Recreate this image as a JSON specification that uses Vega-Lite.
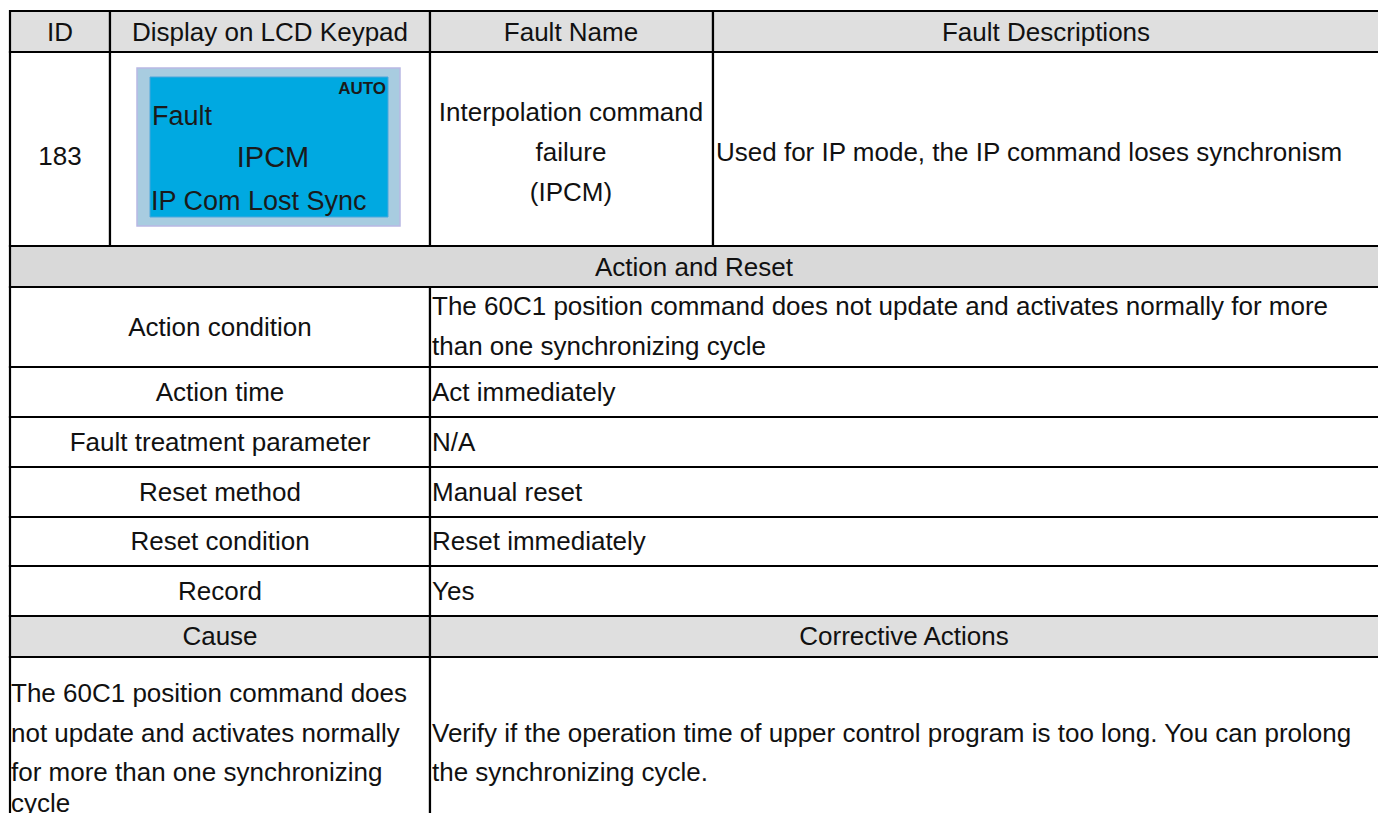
{
  "$schema": "https://vega.github.io/schema/vega-lite/v6.json",
  "width": 1378,
  "height": 813,
  "padding": 0,
  "autosize": {"type": "none"},
  "background": "white",
  "config": {"view": {"stroke": null}, "text": {"font": "Liberation Sans"}},
  "datasets": {
    "cells": [
      {"x": 10, "x2": 110, "y": 11, "y2": 52, "shade": "head"},
      {"x": 110, "x2": 430, "y": 11, "y2": 52, "shade": "head"},
      {"x": 430, "x2": 713, "y": 11, "y2": 52, "shade": "head"},
      {"x": 713, "x2": 1381, "y": 11, "y2": 52, "shade": "head"},
      {"x": 10, "x2": 110, "y": 52, "y2": 246, "shade": "body"},
      {"x": 110, "x2": 430, "y": 52, "y2": 246, "shade": "body"},
      {"x": 430, "x2": 713, "y": 52, "y2": 246, "shade": "body"},
      {"x": 713, "x2": 1381, "y": 52, "y2": 246, "shade": "body"},
      {"x": 10, "x2": 1381, "y": 246, "y2": 287, "shade": "section"},
      {"x": 10, "x2": 430, "y": 287, "y2": 367, "shade": "body"},
      {"x": 430, "x2": 1381, "y": 287, "y2": 367, "shade": "body"},
      {"x": 10, "x2": 430, "y": 367, "y2": 417, "shade": "body"},
      {"x": 430, "x2": 1381, "y": 367, "y2": 417, "shade": "body"},
      {"x": 10, "x2": 430, "y": 417, "y2": 467, "shade": "body"},
      {"x": 430, "x2": 1381, "y": 417, "y2": 467, "shade": "body"},
      {"x": 10, "x2": 430, "y": 467, "y2": 517, "shade": "body"},
      {"x": 430, "x2": 1381, "y": 467, "y2": 517, "shade": "body"},
      {"x": 10, "x2": 430, "y": 517, "y2": 566, "shade": "body"},
      {"x": 430, "x2": 1381, "y": 517, "y2": 566, "shade": "body"},
      {"x": 10, "x2": 430, "y": 566, "y2": 616, "shade": "body"},
      {"x": 430, "x2": 1381, "y": 566, "y2": 616, "shade": "body"},
      {"x": 10, "x2": 430, "y": 616, "y2": 657, "shade": "head"},
      {"x": 430, "x2": 1381, "y": 616, "y2": 657, "shade": "head"},
      {"x": 10, "x2": 430, "y": 657, "y2": 830, "shade": "body"},
      {"x": 430, "x2": 1381, "y": 657, "y2": 830, "shade": "body"}
    ],
    "lcd": [
      {"x": 137, "x2": 400, "y": 68, "y2": 226, "part": "bezel"},
      {"x": 150, "x2": 388, "y": 77, "y2": 217, "part": "screen"}
    ],
    "texts": [
      {"t": "ID", "x": 60, "y": 33, "k": "center"},
      {"t": "Display on LCD Keypad", "x": 270, "y": 33, "k": "center"},
      {"t": "Fault Name", "x": 571, "y": 33, "k": "center"},
      {"t": "Fault Descriptions", "x": 1046, "y": 33, "k": "center"},
      {"t": "183", "x": 60, "y": 157, "k": "center"},
      {"t": "Interpolation command", "x": 571, "y": 113, "k": "center"},
      {"t": "failure", "x": 571, "y": 153, "k": "center"},
      {"t": "(IPCM)", "x": 571, "y": 193, "k": "center"},
      {"t": "Used for IP mode, the IP command loses synchronism", "x": 716, "y": 153, "k": "left"},
      {"t": "Action and Reset", "x": 694, "y": 268, "k": "center"},
      {"t": "Action condition", "x": 220, "y": 328, "k": "center"},
      {"t": "The 60C1 position command does not update and activates normally for more", "x": 432, "y": 307, "k": "left"},
      {"t": "than one synchronizing cycle", "x": 432, "y": 347, "k": "left"},
      {"t": "Action time", "x": 220, "y": 393, "k": "center"},
      {"t": "Act immediately", "x": 432, "y": 393, "k": "left"},
      {"t": "Fault treatment parameter", "x": 220, "y": 443, "k": "center"},
      {"t": "N/A", "x": 432, "y": 443, "k": "left"},
      {"t": "Reset method", "x": 220, "y": 493, "k": "center"},
      {"t": "Manual reset", "x": 432, "y": 493, "k": "left"},
      {"t": "Reset condition", "x": 220, "y": 542, "k": "center"},
      {"t": "Reset immediately", "x": 432, "y": 542, "k": "left"},
      {"t": "Record", "x": 220, "y": 592, "k": "center"},
      {"t": "Yes", "x": 432, "y": 592, "k": "left"},
      {"t": "Cause", "x": 220, "y": 637, "k": "center"},
      {"t": "Corrective Actions", "x": 904, "y": 637, "k": "center"},
      {"t": "The 60C1 position command does", "x": 11, "y": 694, "k": "left"},
      {"t": "not update and activates normally", "x": 11, "y": 734, "k": "left"},
      {"t": "for more than one synchronizing", "x": 11, "y": 773, "k": "left"},
      {"t": "cycle", "x": 11, "y": 804, "k": "left"},
      {"t": "Verify if the operation time of upper control program is too long. You can prolong", "x": 432, "y": 734, "k": "left"},
      {"t": "the synchronizing cycle.", "x": 432, "y": 773, "k": "left"},
      {"t": "AUTO", "x": 386, "y": 89, "k": "auto"},
      {"t": "Fault", "x": 152, "y": 117, "k": "lcd"},
      {"t": "IPCM", "x": 273, "y": 158, "k": "lcdc"},
      {"t": "IP Com Lost Sync", "x": 151, "y": 202, "k": "lcd"}
    ]
  },
  "encoding": {
    "x": {"field": "x", "type": "quantitative", "scale": {"domain": [0, 1378], "nice": false, "zero": false}, "axis": null},
    "y": {"field": "y", "type": "quantitative", "scale": {"domain": [0, 813], "nice": false, "zero": false, "reverse": true}, "axis": null}
  },
  "layer": [
    {
      "data": {"name": "cells"},
      "mark": {"type": "rect", "stroke": "#000000", "strokeWidth": 2.2},
      "encoding": {
        "x2": {"field": "x2"},
        "y2": {"field": "y2"},
        "fill": {"field": "shade", "type": "nominal", "legend": null,
          "scale": {"domain": ["head", "section", "body"], "range": ["#dfdfdf", "#d9d9d9", "#ffffff"]}}
      }
    },
    {
      "data": {"name": "lcd"},
      "transform": [{"filter": "datum.part === 'bezel'"}],
      "mark": {"type": "rect", "fill": "#a8cce0", "stroke": "#b8b8e4", "strokeWidth": 1.5},
      "encoding": {"x2": {"field": "x2"}, "y2": {"field": "y2"}}
    },
    {
      "data": {"name": "lcd"},
      "transform": [{"filter": "datum.part === 'screen'"}],
      "mark": {"type": "rect", "fill": "#00a9e1", "stroke": "#4aa6dc", "strokeWidth": 1},
      "encoding": {"x2": {"field": "x2"}, "y2": {"field": "y2"}}
    },
    {
      "data": {"name": "texts"},
      "transform": [{"filter": "datum.k === 'center'"}],
      "mark": {"type": "text", "align": "center", "baseline": "middle", "fontSize": 26, "color": "#111111"},
      "encoding": {"text": {"field": "t"}}
    },
    {
      "data": {"name": "texts"},
      "transform": [{"filter": "datum.k === 'left'"}],
      "mark": {"type": "text", "align": "left", "baseline": "middle", "fontSize": 26, "color": "#111111"},
      "encoding": {"text": {"field": "t"}}
    },
    {
      "data": {"name": "texts"},
      "transform": [{"filter": "datum.k === 'auto'"}],
      "mark": {"type": "text", "align": "right", "baseline": "middle", "fontSize": 17, "fontWeight": "bold", "color": "#1a1a1a"},
      "encoding": {"text": {"field": "t"}}
    },
    {
      "data": {"name": "texts"},
      "transform": [{"filter": "datum.k === 'lcd'"}],
      "mark": {"type": "text", "align": "left", "baseline": "middle", "fontSize": 27, "color": "#1a1a1a"},
      "encoding": {"text": {"field": "t"}}
    },
    {
      "data": {"name": "texts"},
      "transform": [{"filter": "datum.k === 'lcdc'"}],
      "mark": {"type": "text", "align": "center", "baseline": "middle", "fontSize": 29, "color": "#1a1a1a"},
      "encoding": {"text": {"field": "t"}}
    }
  ]
}
